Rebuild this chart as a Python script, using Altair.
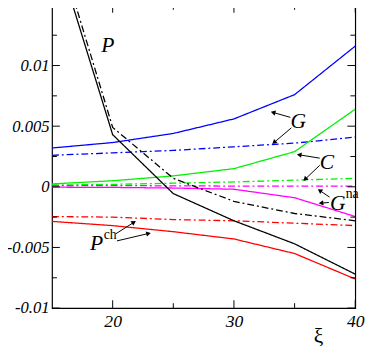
import math
import altair as alt
import pandas as pd

# ---------------- data ----------------
xi = [15, 20, 25, 30, 35, 40]
P_solid = [0.0205, 0.0043, -0.00056, -0.0028, -0.0047, -0.0072]
P_dash = [0.0214, 0.0049, 0.0007, -0.0012, -0.0022, -0.0028]
G_solid = [0.0032, 0.00365, 0.0044, 0.0056, 0.0076, 0.0116]
G_dash = [0.0026, 0.0028, 0.0030, 0.0033, 0.0036, 0.0041]
C_solid = [0.00024, 0.0005, 0.0009, 0.0015, 0.0029, 0.0064]
C_dash = [0.00015, 0.0002, 0.0003, 0.0004, 0.00055, 0.0007]
Gna_solid = [-0.00003, -0.00005, -0.0001, -0.0002, -0.0009, -0.00245]
Gna_dash = [0.0001, 0.0001, 0.00008, 0.00006, 0.00005, 0.00005]
Pch_solid = [-0.00285, -0.0032, -0.0037, -0.0043, -0.0055, -0.0076]
Pch_dash = [-0.00245, -0.0025, -0.0027, -0.0028, -0.0030, -0.0032]

x_labels = [20, 30, 40]
x_minor = [25, 35]
y_labels = [-0.01, -0.005, 0, 0.005, 0.01]
y_minor = [-0.0075, -0.0025, 0.0025, 0.0075, 0.0125]

# annotation labels (data coordinates)
lab_x = [19.6, 35.3, 37.66, 38.55, 18.67]
lab_y = [0.0117, 0.0054, 0.00201, -0.00133, -0.00468]
lab_t = ["P", "G", "C", "G", "P"]
sup_x = [39.75, 19.8]
sup_y = [-0.00057, -0.00395]
sup_t = ["na", "ch"]

# arrows: start -> head
ar_x1 = [34.653, 34.734, 37.073, 37.073, 37.879, 37.823, 20.266, 20.347]
ar_y1 = [0.005726, 0.004863, 0.002363, 0.001774, -0.000847, -0.001290, -0.003871, -0.004460]
ar_x2 = [33.226, 33.306, 35.379, 35.863, 37.073, 37.177, 21.75, 22.96]
ar_y2 = [0.006129, 0.003653, 0.002637, 0.000621, -0.000306, -0.001347, -0.002927, -0.003847]

# ---------------- build tables ----------------
W, H = 310, 310
X_DOM = [15, 40]
Y_DOM = [-0.01, 0.015]
px_x = W / (X_DOM[1] - X_DOM[0])
px_y = H / (Y_DOM[1] - Y_DOM[0])
SERIF = "Liberation Serif, Times New Roman, serif"

series = [
    ("G", "solid", G_solid), ("G_d", "dashdot", G_dash),
    ("C", "solid", C_solid), ("C_d", "dashdot", C_dash),
    ("Gna", "solid", Gna_solid), ("Gna_d", "dashdot", Gna_dash),
    ("Pch", "solid", Pch_solid), ("Pch_d", "dashdot", Pch_dash),
    ("P", "solid", P_solid), ("P_d", "dashdot", P_dash),
]
colors = {"G": "#0000ff", "C": "#00f000", "Gna": "#ff00ff", "Pch": "#ff0000", "P": "#000000"}
rows = []
for name, style, vals in series:
    grp = name.split("_")[0]
    for x, v in zip(xi, vals):
        rows.append({"xi": x, "v": v, "series": name, "grp": grp, "style": style})
df = pd.DataFrame(rows)

xs = alt.Scale(domain=X_DOM, nice=False, zero=False)
ys = alt.Scale(domain=Y_DOM, nice=False, zero=False)

lines = alt.Chart(df).mark_line(clip=True, strokeWidth=1.3).encode(
    x=alt.X("xi:Q", scale=xs,
            axis=alt.Axis(values=x_labels, ticks=False, domain=False, grid=False,
                          labelFont=SERIF, labelFontStyle="italic",
                          labelFontSize=18, labelColor="black", labelBaseline="middle",
                          labelPadding=14, labelFlush=False,
                          title="ξ", titleFont=SERIF, titleFontSize=22,
                          titleFontWeight="normal", titleColor="black",
                          titleX=272, titleY=28, titleBaseline="middle", titleAlign="center")),
    y=alt.Y("v:Q", scale=ys,
            axis=alt.Axis(values=y_labels, ticks=False, domain=False, grid=False,
                          labelExpr="'' + datum.value",
                          labelFont=SERIF, labelFontStyle="italic",
                          labelFontSize=17, labelColor="black", labelBaseline="middle",
                          labelPadding=3, labelFlush=False, title=None)),
    color=alt.Color("grp:N", scale=alt.Scale(domain=list(colors.keys()),
                                             range=list(colors.values())), legend=None),
    strokeDash=alt.StrokeDash("style:N", scale=alt.Scale(domain=["solid", "dashdot"],
                                                         range=[[1, 0], [7, 3, 2, 3]]),
                              legend=None),
    detail="series:N",
)

# ---------------- inward ticks ----------------
def xticks(vals, length):
    d = pd.DataFrame({"t": vals})
    b = alt.Chart(d).mark_rule(color="black", strokeWidth=1).encode(
        x=alt.X("t:Q", scale=xs), y=alt.value(H), y2=alt.value(H - length))
    t = alt.Chart(d).mark_rule(color="black", strokeWidth=1).encode(
        x=alt.X("t:Q", scale=xs), y=alt.value(0), y2=alt.value(length))
    return [b, t]

def yticks(vals, length):
    d = pd.DataFrame({"t": vals})
    l = alt.Chart(d).mark_rule(color="black", strokeWidth=1).encode(
        y=alt.Y("t:Q", scale=ys), x=alt.value(0), x2=alt.value(length))
    r = alt.Chart(d).mark_rule(color="black", strokeWidth=1).encode(
        y=alt.Y("t:Q", scale=ys), x=alt.value(W), x2=alt.value(W - length))
    return [l, r]

ticks = xticks(x_labels, 8) + xticks(x_minor, 5) + yticks(y_labels, 8) + yticks(y_minor, 5)

# ---------------- annotations ----------------
lab_df = pd.DataFrame({"x": lab_x, "y": lab_y, "t": lab_t})
labels = alt.Chart(lab_df).mark_text(font=SERIF, fontStyle="italic",
                                     fontSize=22, color="black", align="center",
                                     baseline="middle").encode(
    x=alt.X("x:Q", scale=xs), y=alt.Y("y:Q", scale=ys), text="t:N")

sup_df = pd.DataFrame({"x": sup_x, "y": sup_y, "t": sup_t})
sups = alt.Chart(sup_df).mark_text(font=SERIF, fontSize=14, color="black",
                                   align="center", baseline="middle").encode(
    x=alt.X("x:Q", scale=xs), y=alt.Y("y:Q", scale=ys), text="t:N")

angles = []
for a, b, c, d in zip(ar_x1, ar_y1, ar_x2, ar_y2):
    dx = (c - a) * px_x
    dy = -(d - b) * px_y
    angles.append(math.degrees(math.atan2(dy, dx)) % 360)
ar_df = pd.DataFrame({"x1": ar_x1, "y1": ar_y1, "x2": ar_x2, "y2": ar_y2, "ang": angles})
shafts = alt.Chart(ar_df).mark_rule(color="black", strokeWidth=1).encode(
    x=alt.X("x1:Q", scale=xs), y=alt.Y("y1:Q", scale=ys), x2="x2:Q", y2="y2:Q")
heads = alt.Chart(ar_df).mark_point(shape="triangle-right", filled=True, color="black",
                                    size=30, opacity=1).encode(
    x=alt.X("x2:Q", scale=xs), y=alt.Y("y2:Q", scale=ys),
    angle=alt.Angle("ang:Q", scale=None))

chart = alt.layer(lines, *ticks, shafts, heads, labels, sups).properties(
    width=W, height=H,
    padding={"left": 45, "top": -7, "right": 11, "bottom": 38},
    autosize=alt.AutoSizeParams(type="none"),
    background="white",
).configure_view(stroke="black", strokeWidth=1.2)

chart.save("out.html", embed_options={"renderer": "svg", "actions": False})
